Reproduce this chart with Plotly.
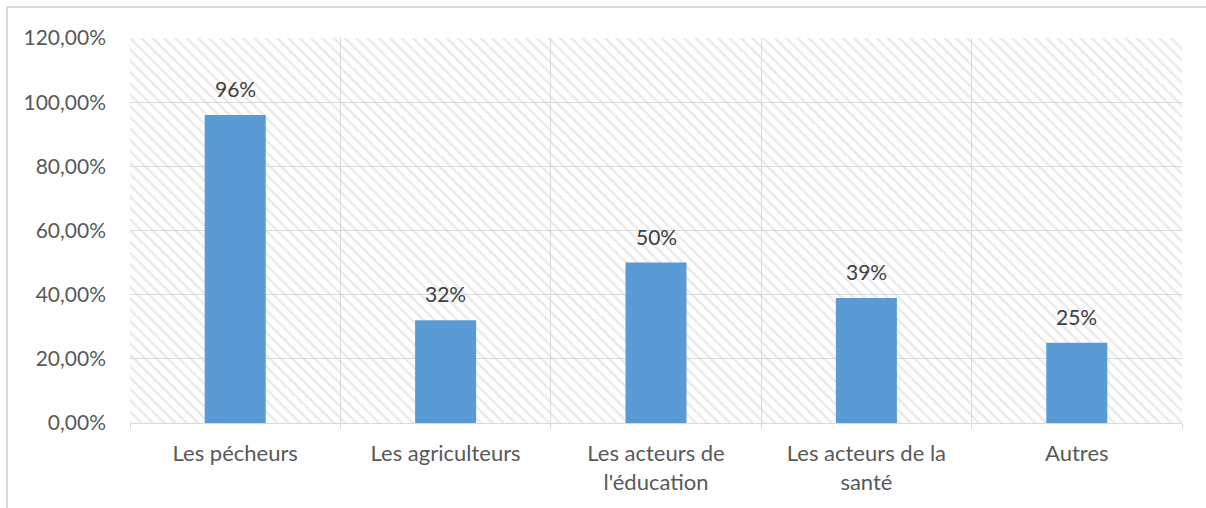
import plotly.graph_objects as go

# ---- data ----
categories = ["Les pécheurs", "Les agriculteurs", "Les acteurs de l'éducation",
              "Les acteurs de la santé", "Autres"]
tick_labels = ["Les pécheurs", "Les agriculteurs", "Les acteurs de<br>l'éducation",
               "Les acteurs de la<br>santé", "Autres"]
values = [0.96, 0.32, 0.50, 0.39, 0.25]
y_max = 1.20
y_step = 0.20

FONT = "Lato"
W, H = 1206, 508
L, R, T, B = 130, 24, 38, 85
GRID = "#d9d9d9"

fig = go.Figure()

# hatched plot-area background: one transparent bar spanning all categories
fig.add_trace(go.Bar(
    x=[tick_labels[len(tick_labels) // 2]], y=[y_max], width=[len(tick_labels)],
    marker=dict(color="#d6d6d6", line=dict(width=0),
                pattern=dict(shape="\\", size=8, solidity=0.32, fgcolor="#d6d6d6",
                             bgcolor="rgba(0,0,0,0)")),
    hoverinfo="skip", showlegend=False,
))

# data bars
fig.add_trace(go.Bar(
    x=tick_labels, y=values, width=0.29,
    marker=dict(color="#5B9BD5", line=dict(width=0)),
    showlegend=False,
))

for lab, v in zip(tick_labels, values):
    fig.add_annotation(x=lab, y=v, text=f"{round(v * 100)}%", showarrow=False,
                       yanchor="bottom", yshift=12,
                       font=dict(family=FONT, size=21, color="#404040"))

pw = W - L - R
ph = H - T - B
# outer chart frame: only the left and top edges are inside the picture
x_left = (7 - L) / pw
x_right = (W + 10 - L) / pw
y_top = (H - B - 7) / ph
y_bottom = -(B + 10) / ph
fig.add_shape(type="line", xref="paper", yref="paper",
              x0=x_left, x1=x_right, y0=y_top, y1=y_top,
              line=dict(color=GRID, width=2), layer="below")
fig.add_shape(type="line", xref="paper", yref="paper",
              x0=x_left, x1=x_left, y0=y_bottom, y1=y_top,
              line=dict(color=GRID, width=2), layer="below")

fig.update_layout(
    width=W, height=H,
    margin=dict(l=L, r=R, t=T, b=B, autoexpand=False),
    barmode="overlay",
    paper_bgcolor="white", plot_bgcolor="white",
    separators=", ",
    font=dict(family=FONT, size=21, color="#595959"),
    xaxis=dict(
        type="category", categoryorder="array", categoryarray=tick_labels,
        range=[-0.5, len(tick_labels) - 0.5],
        tickson="boundaries", showgrid=True, gridcolor=GRID, gridwidth=1,
        ticks="outside", ticklen=5, tickcolor=GRID, tickwidth=1,
        showline=True, linecolor=GRID, linewidth=1,
        tickfont=dict(family=FONT, size=22, color="#595959"),
        ticklabelstandoff=11, automargin=False,
        fixedrange=True,
    ),
    yaxis=dict(
        range=[0, y_max], dtick=y_step, tick0=0, tickformat=".2%",
        showgrid=True, gridcolor=GRID, gridwidth=1,
        zeroline=False, showline=False, ticks="",
        tickfont=dict(family=FONT, size=21, color="#595959"),
        ticklabelstandoff=23, automargin=False,
        fixedrange=True,
    ),
)

fig.write_html(
    "out.html",
    config={"displayModeBar": False},
    post_script="document.body.style.margin='0';document.body.style.overflow='hidden';",
)
